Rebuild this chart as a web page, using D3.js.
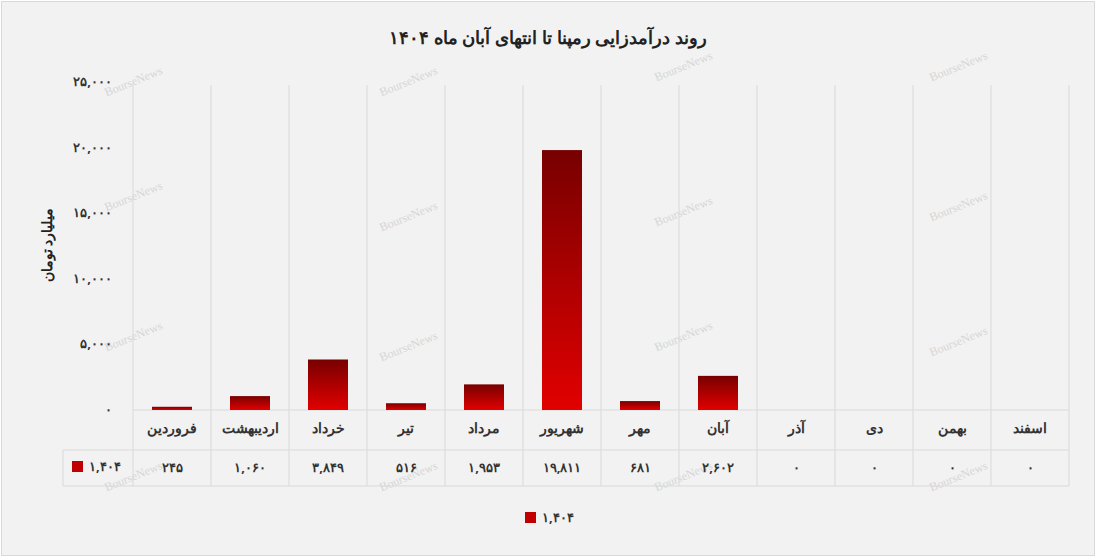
<!DOCTYPE html>
<html><head><meta charset="utf-8">
<script src="https://cdn.jsdelivr.net/npm/d3@7"></script>
<style>body{margin:0;background:#fff}svg{font-family:"Noto Sans",sans-serif}</style>
</head><body><svg id="c" width="1096" height="557"></svg>
<script>
const categories=["فروردین","اردیبهشت","خرداد","تیر","مرداد","شهریور","مهر","آبان","آذر","دی","بهمن","اسفند"];
const values=[245,1060,3849,516,1953,19811,681,2602,0,0,0,0];
const yTicks=[0,5000,10000,15000,20000,25000];
const seriesName="۱,۴۰۴";
const title="روند درآمدزایی رمپنا تا انتهای آبان ماه ۱۴۰۴";
const yTitle="میلیارد تومان";

const fa=s=>String(s).replace(/\d/g,d=>"۰۱۲۳۴۵۶۷۸۹"[d]);
const fmt=v=>fa(d3.format(",")(v));
const svg=d3.select("#c");
svg.append("rect").attr("x",1.5).attr("y",1.5).attr("width",1093).attr("height",554).attr("fill","#f2f2f2").attr("stroke","#d9d9d9");
const defs=svg.append("defs");
const g=defs.append("linearGradient").attr("id","gr").attr("x1",0).attr("y1",0).attr("x2",0).attr("y2",1);
g.append("stop").attr("offset","0%").attr("stop-color","#780000");
g.append("stop").attr("offset","100%").attr("stop-color","#e20000");

const x=d3.scaleBand().domain(categories).range([133,1069]);
const y=d3.scaleLinear().domain([0,25000]).range([410,82]);

const wm=svg.append("g").attr("fill","#d6d6d6").attr("font-family","Liberation Serif").attr("font-size",12);
[[135,85],[410,85],[685,70],[960,70],[135,200],[410,220],[685,215],[960,210],[135,340],[410,350],[685,340],[960,345],[135,480],[410,480],[685,480],[960,480]].forEach(([a,b])=>
 wm.append("text").attr("x",a).attr("y",b).attr("transform",`rotate(-22 ${a} ${b})`).attr("text-anchor","middle").text("BourseNews"));

const lines=svg.append("g").attr("stroke","#d9d9d9");
x.domain().concat(["end"]).forEach((c,i)=>{const xx=133+i*x.bandwidth();
 lines.append("line").attr("x1",xx).attr("x2",xx).attr("y1",85).attr("y2",486);});
lines.append("line").attr("x1",63).attr("x2",63).attr("y1",450).attr("y2",486);
lines.append("line").attr("x1",133).attr("x2",1069).attr("y1",410).attr("y2",410);
lines.append("line").attr("x1",63).attr("x2",1069).attr("y1",450).attr("y2",450);
lines.append("line").attr("x1",63).attr("x2",1069).attr("y1",486).attr("y2",486);

svg.append("g").selectAll("rect").data(values).join("rect")
 .attr("x",(d,i)=>x(categories[i])+x.bandwidth()/2-20).attr("width",40)
 .attr("y",d=>y(d)).attr("height",d=>410-y(d)).attr("fill","url(#gr)");

svg.append("g").selectAll("text").data(yTicks).join("text").attr("x",112).attr("y",d=>y(d)+4)
 .attr("text-anchor","end").attr("font-size",13).attr("font-weight","bold").attr("fill","#333").text(fmt);

svg.append("g").selectAll("text").data(categories).join("text").attr("x",d=>x(d)+x.bandwidth()/2).attr("y",433)
 .attr("text-anchor","middle").attr("font-size",14).attr("font-weight","bold").attr("fill","#333").text(d=>d);
svg.append("g").selectAll("text").data(values).join("text").attr("x",(d,i)=>x(categories[i])+x.bandwidth()/2).attr("y",472)
 .attr("text-anchor","middle").attr("font-size",13).attr("font-weight","bold").attr("fill","#333").text(fmt);
svg.append("rect").attr("x",72).attr("y",461).attr("width",11).attr("height",11).attr("fill","#c00000");
svg.append("text").attr("x",89).attr("y",471).attr("font-size",13).attr("font-weight","bold").attr("fill","#333").text(seriesName);
svg.append("rect").attr("x",525).attr("y",512).attr("width",11).attr("height",11).attr("fill","#c00000");
svg.append("text").attr("x",542).attr("y",522).attr("font-size",13).attr("font-weight","bold").attr("fill","#333").text(seriesName);
svg.append("text").attr("x",548).attr("y",44).attr("text-anchor","middle").attr("font-size",18).attr("font-weight","bold").attr("fill","#222").text(title);
svg.append("text").attr("transform","translate(52,245) rotate(-90)").attr("text-anchor","middle").attr("font-size",14).attr("font-weight","bold").attr("fill","#222").text(yTitle);
</script></body></html>
